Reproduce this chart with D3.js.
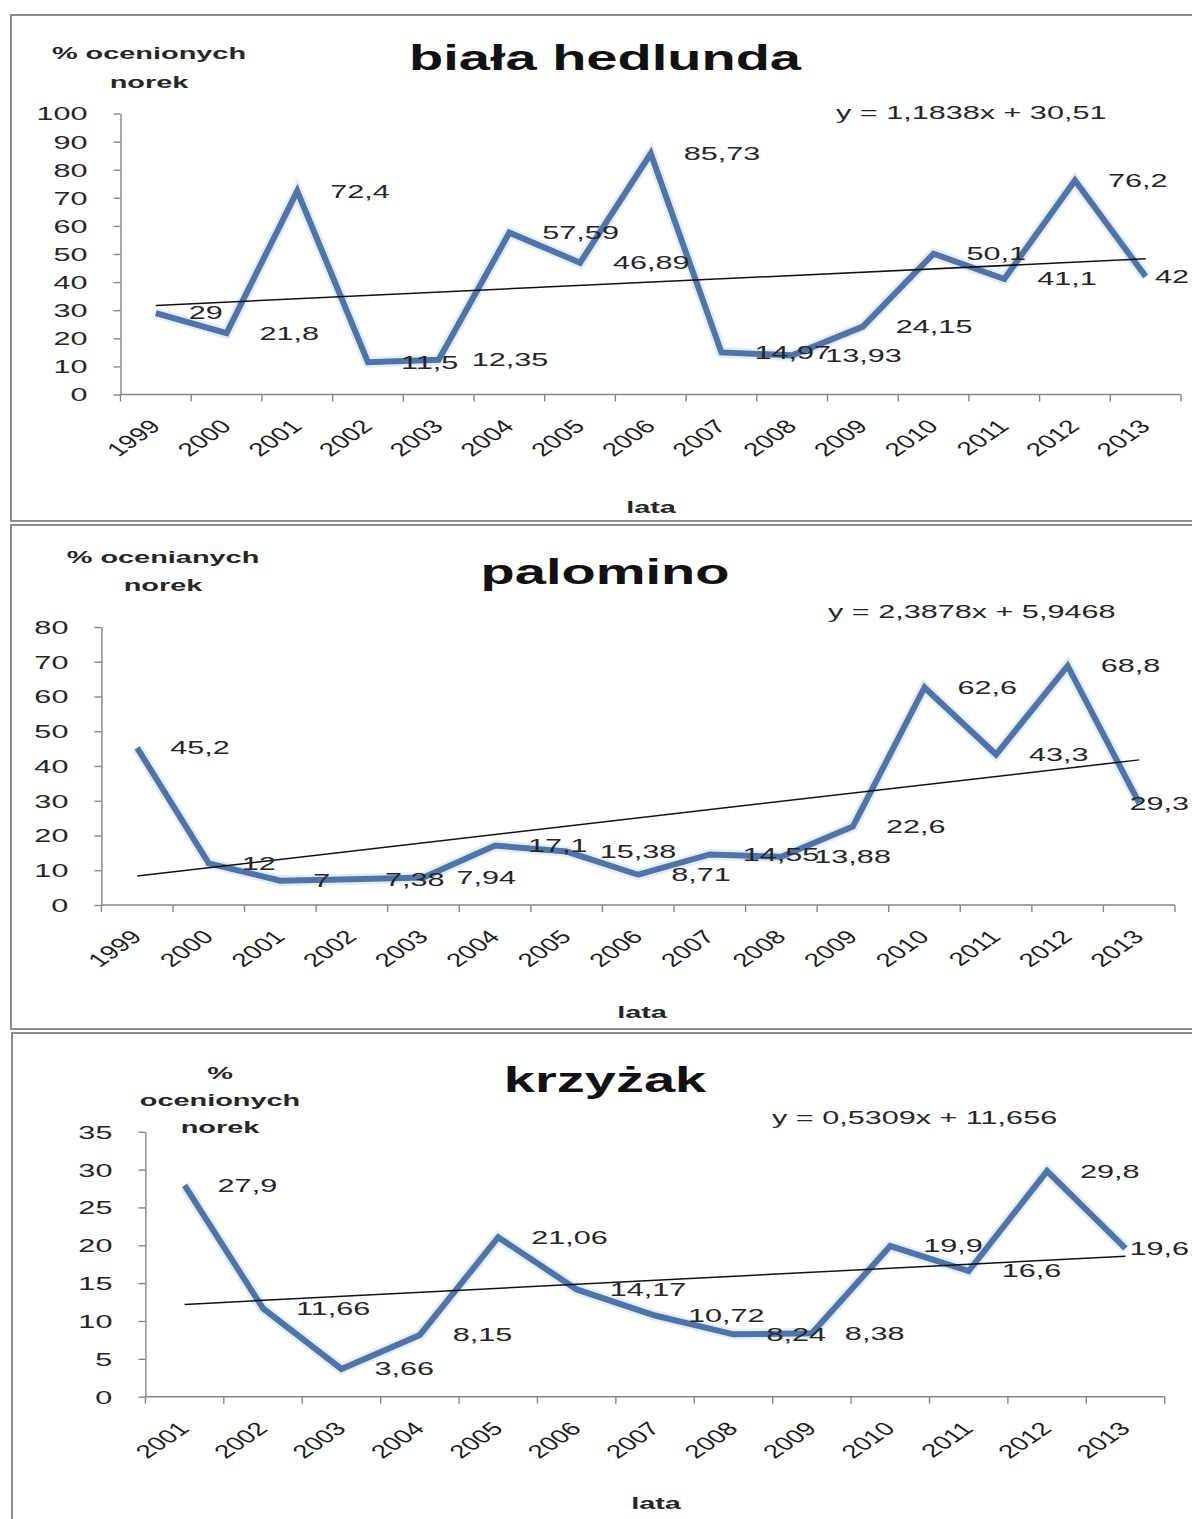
<!DOCTYPE html>
<html>
<head>
<meta charset="utf-8">
<script src="https://cdnjs.cloudflare.com/ajax/libs/d3/7.8.5/d3.min.js"></script>
<style>
  html, body { margin: 0; padding: 0; background: #fff; }
  svg { display: block; }
  text { font-family: "Liberation Sans", Arial, sans-serif; }
</style>
</head>
<body>
<svg id="chart" width="1192" height="1519"></svg>
<script>
// ---- data ----
const yearsLong = ["1999","2000","2001","2002","2003","2004","2005","2006","2007","2008","2009","2010","2011","2012","2013"];
const yearsShort = ["2001","2002","2003","2004","2005","2006","2007","2008","2009","2010","2011","2012","2013"];

const bialaValues    = [29, 21.8, 72.4, 11.5, 12.35, 57.59, 46.89, 85.73, 14.97, 13.93, 24.15, 50.1, 41.1, 76.2, 42];
const palominoValues = [45.2, 12, 7, 7.38, 7.94, 17.1, 15.38, 8.71, 14.55, 13.88, 22.6, 62.6, 43.3, 68.8, 29.3];
const krzyzakValues  = [27.9, 11.66, 3.66, 8.15, 21.06, 14.17, 10.72, 8.24, 8.38, 19.9, 16.6, 29.8, 19.6];

const titles = ["biała hedlunda", "palomino", "krzyżak"];
const yAxisTitles = [["% ocenionych", "norek"], ["% ocenianych", "norek"], ["%", "ocenionych", "norek"]];
const xAxisTitle = "lata";

// linear trend y = a*x + b, x = 1..n
const trendSlopes = [1.1838, 2.3878, 0.5309];
const trendIntercepts = [30.51, 5.9468, 11.656];

const yMaxima = [100, 80, 35];
const yTickSteps = [10, 10, 5];

// ---- layout ----
const layout = [
  { box: [11, 15, 1300, 506], plot: { l: 120.5, r: 1181, t: 113.5, b: 394.5 },
    titleY: 70, yTitleX: 149, yTitleY: [53, 82], eqX: 836, eqY: 113, xTitleX: 651, xTitleY: 507 },
  { box: [11, 525, 1300, 504], plot: { l: 101.4, r: 1175, t: 627, b: 905 },
    titleY: 584, yTitleX: 163, yTitleY: [557, 585], eqX: 828, eqY: 612, xTitleX: 642, xTitleY: 1012 },
  { box: [12, 1033, 1300, 600], plot: { l: 145.4, r: 1164.7, t: 1131.7, b: 1396.7 },
    titleY: 1092, yTitleX: 220, yTitleY: [1073, 1100, 1127], eqX: 772, eqY: 1118, xTitleX: 656, xTitleY: 1503 }
];
const stretch = 1.7;        // horizontal text stretch
const titleStretch = 1.6;
const yearStretch = 1.45;
const labelLimit = 1189;    // right edge available to data labels

const series = [
  { cats: yearsLong,  values: bialaValues },
  { cats: yearsLong,  values: palominoValues },
  { cats: yearsShort, values: krzyzakValues }
];

const svg = d3.select("#chart");
const fmt = v => String(v).replace(".", ",");

function place(sel, x, y, sx, rot) {
  sel.attr("transform", `translate(${x},${y}) scale(${sx},1)` + (rot ? ` rotate(${rot})` : ""));
  return sel;
}

series.forEach((s, i) => {
  const L = layout[i];
  const g = svg.append("g");

  // panel frame
  g.append("rect")
    .attr("x", L.box[0]).attr("y", L.box[1])
    .attr("width", L.box[2]).attr("height", L.box[3])
    .attr("fill", "#fff").attr("stroke", "#8c8c8c").attr("stroke-width", 2);

  const x = d3.scaleBand().domain(s.cats).range([L.plot.l, L.plot.r]).padding(0);
  const y = d3.scaleLinear().domain([0, yMaxima[i]]).range([L.plot.b, L.plot.t]);
  const cx = d => x(d) + x.bandwidth() / 2;

  // y axis
  const yTicks = d3.range(0, yMaxima[i] + yTickSteps[i] / 2, yTickSteps[i]);
  const yAxis = g.append("g")
    .attr("transform", `translate(${L.plot.l},0)`)
    .call(d3.axisLeft(y).tickValues(yTicks).tickSize(7).tickPadding(0).tickSizeOuter(0));
  yAxis.attr("font-family", null);
  yAxis.select(".domain").attr("stroke", "#868686").attr("stroke-width", 1.4);
  yAxis.selectAll(".tick line").attr("stroke", "#868686").attr("stroke-width", 1.4);
  yAxis.selectAll(".tick text").each(function () {
    const t = d3.select(this);
    t.attr("x", null).attr("dy", null)
      .attr("text-anchor", "end").attr("dominant-baseline", "central")
      .attr("font-size", 18).attr("fill", "#262626");
    place(t, -33, 0, stretch);
  });

  // x axis: line with ticks at category boundaries
  const bounds = d3.range(s.cats.length + 1).map(k => L.plot.l + k * x.step());
  g.append("line")
    .attr("x1", L.plot.l).attr("x2", L.plot.r)
    .attr("y1", y(0)).attr("y2", y(0))
    .attr("stroke", "#868686").attr("stroke-width", 1.4);
  g.selectAll(".xtick").data(bounds).join("line")
    .attr("x1", d => d).attr("x2", d => d)
    .attr("y1", y(0)).attr("y2", y(0) + 7)
    .attr("stroke", "#868686").attr("stroke-width", 1.4);

  g.selectAll(".xlab").data(s.cats).join("text")
    .attr("text-anchor", "end")
    .attr("font-size", 19).attr("fill", "#1c1c1c")
    .text(d => d)
    .each(function (d) { place(d3.select(this), cx(d) + 6, y(0) + 33, yearStretch, -45); });

  // titles
  place(g.append("text")
    .attr("text-anchor", "middle").attr("font-size", 35).attr("font-weight", "bold")
    .attr("fill", "#111").text(titles[i]), 605, L.titleY, titleStretch);

  yAxisTitles[i].forEach((line, k) => {
    place(g.append("text")
      .attr("text-anchor", "middle").attr("dominant-baseline", "central")
      .attr("font-size", 17).attr("font-weight", "bold").attr("fill", "#262626")
      .text(line), L.yTitleX, L.yTitleY[k], stretch);
  });

  place(g.append("text")
    .attr("text-anchor", "middle").attr("dominant-baseline", "central")
    .attr("font-size", 17).attr("font-weight", "bold").attr("fill", "#262626")
    .text(xAxisTitle), L.xTitleX, L.xTitleY, stretch);

  // series line (soft halo + stroke)
  const line = d3.line().x((d, k) => cx(s.cats[k])).y(d => y(d));
  g.append("path").datum(s.values)
    .attr("d", line).attr("fill", "none")
    .attr("stroke", "#c9d9ee").attr("stroke-width", 11).attr("stroke-opacity", 0.5)
    .attr("stroke-linejoin", "miter");
  g.append("path").datum(s.values)
    .attr("d", line).attr("fill", "none")
    .attr("stroke", "#5074a6").attr("stroke-width", 6)
    .attr("stroke-linejoin", "miter").attr("stroke-miterlimit", 6);

  // linear trend line
  const n = s.values.length;
  const trend = k => trendSlopes[i] * k + trendIntercepts[i];
  g.append("line")
    .attr("x1", cx(s.cats[0])).attr("y1", y(trend(1)))
    .attr("x2", cx(s.cats[n - 1])).attr("y2", y(trend(n)))
    .attr("stroke", "#111").attr("stroke-width", 1.5);

  // trend equation
  place(g.append("text")
    .attr("dominant-baseline", "central")
    .attr("font-size", 18).attr("fill", "#262626")
    .text(`y = ${fmt(trendSlopes[i])}x + ${fmt(trendIntercepts[i])}`), L.eqX, L.eqY, stretch);

  // data labels to the right of each point, kept inside the chart area
  s.values.forEach((v, k) => {
    const t = g.append("text")
      .attr("dominant-baseline", "central")
      .attr("font-size", 18).attr("fill", "#262626")
      .text(fmt(v));
    const w = t.node().getComputedTextLength() * stretch;
    let lx = cx(s.cats[k]) + 33;
    if (lx + w > labelLimit) lx = labelLimit - w;
    place(t, lx, y(v), stretch);
  });
});
</script>
</body>
</html>
